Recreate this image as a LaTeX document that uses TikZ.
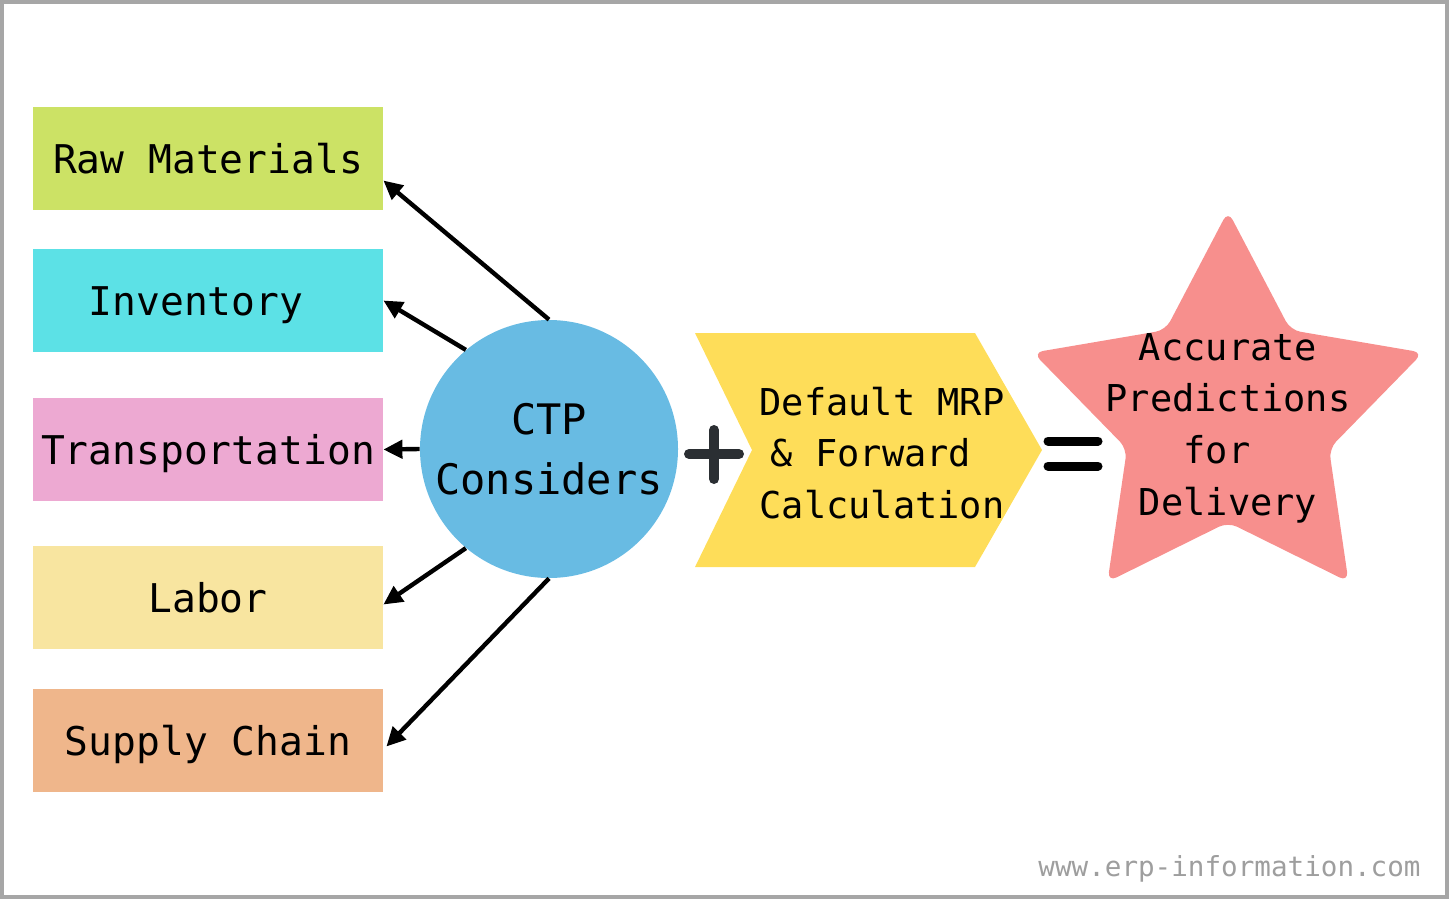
\documentclass[tikz,border=0pt]{standalone}
\usepackage{fontspec}
\setmonofont{DejaVu Sans Mono}
\usetikzlibrary{shapes.geometric,arrows.meta,calc}
\definecolor{rawgreen}{HTML}{CCE265}
\definecolor{invcyan}{HTML}{5CE1E6}
\definecolor{transpink}{HTML}{EDA9D2}
\definecolor{laboryellow}{HTML}{F8E5A0}
\definecolor{supplyorange}{HTML}{EFB68B}
\definecolor{ctpblue}{HTML}{68BBE3}
\definecolor{mrpyellow}{HTML}{FEDD59}
\definecolor{starred}{HTML}{F78F8D}
\definecolor{plusgray}{HTML}{2B2F33}
\definecolor{framegray}{HTML}{A6A6A6}
\definecolor{sitegray}{HTML}{9E9E9E}
\begin{document}
\begin{tikzpicture}[x=0.5pt,y=-0.5pt,
    factor/.style={rectangle, minimum width=175pt, minimum height=51.5pt, inner sep=0pt,
      text height=14.5pt, text depth=0pt, font=\ttfamily\fontsize{19.8}{24}\selectfont},
    link/.style={line width=2.2pt, -{Triangle[length=9.5pt,width=9pt]}}]
    \useasboundingbox (0,0) rectangle (1450,900);

    % Frame
    \draw[framegray, line width=2pt] (2,2) rectangle (1447,897);

    % Factors considered
    \node[factor, fill=rawgreen] (raw) at (208,158.5) {Raw Materials};
    \node[factor, fill=invcyan] (inv) at (208,300.5) {Inventory\hphantom{x}};
    \node[factor, fill=transpink] (trans) at (208,449.5) {Transportation};
    \node[factor, fill=laboryellow] (labor) at (208,597.5) {Labor};
    \node[factor, fill=supplyorange] (supply) at (208,740.5) {Supply Chain};

    % CTP circle
    \node[circle, fill=ctpblue, minimum size=129pt, inner sep=0pt, align=center,
      font=\ttfamily\fontsize{21}{30}\selectfont] (ctp) at (549,449) {CTP\\Considers};

    % Arrows to the factors
    \draw[link] (ctp.north) -- ($(raw.east)+(0,22)$);
    \draw[link] (ctp.130) -- (inv.east);
    \draw[link] (ctp.west) -- (trans.east);
    \draw[link] (ctp.-130) -- ($(labor.east)+(0,7)$);
    \draw[link] (ctp.south) -- ($(supply.east)+(3,6)$);

    % Plus sign
    \draw[plusgray, line width=5pt, line cap=round] (689,454) -- (739,454) (714,430) -- (714,479);

    % MRP chevron
    \fill[mrpyellow] (695,333) -- (975,333) -- (1042,450) -- (975,567) -- (695,567) -- (752,450) -- cycle;
    \node[align=center, font=\ttfamily\fontsize{18.5}{25.8}\selectfont] (mrp) at (882,453)
      {Default MRP\\\& Forward\hphantom{x}\\Calculation};

    % Equals sign
    \draw[black, line width=4.5pt, line cap=round] (1048,441) -- (1098,441) (1048,466) -- (1098,466);

    % Star with the result
    \node[star, star points=5, star point ratio=1.93, minimum size=205pt, inner sep=0pt,
      fill=starred, rounded corners=5pt] (goal) at (1228,416) {};
    \node[align=center, font=\ttfamily\fontsize{18.5}{25.8}\selectfont] (goaltext) at (1228,428)
      {Accurate\\Predictions\\for\hphantom{x}\\Delivery};

    % Website
    \node[anchor=base east, inner sep=0pt, text=sitegray, font=\ttfamily\fontsize{13.8}{16}\selectfont]
      (site) at (1421,876) {www.erp-information.com};
\end{tikzpicture}
\end{document}
